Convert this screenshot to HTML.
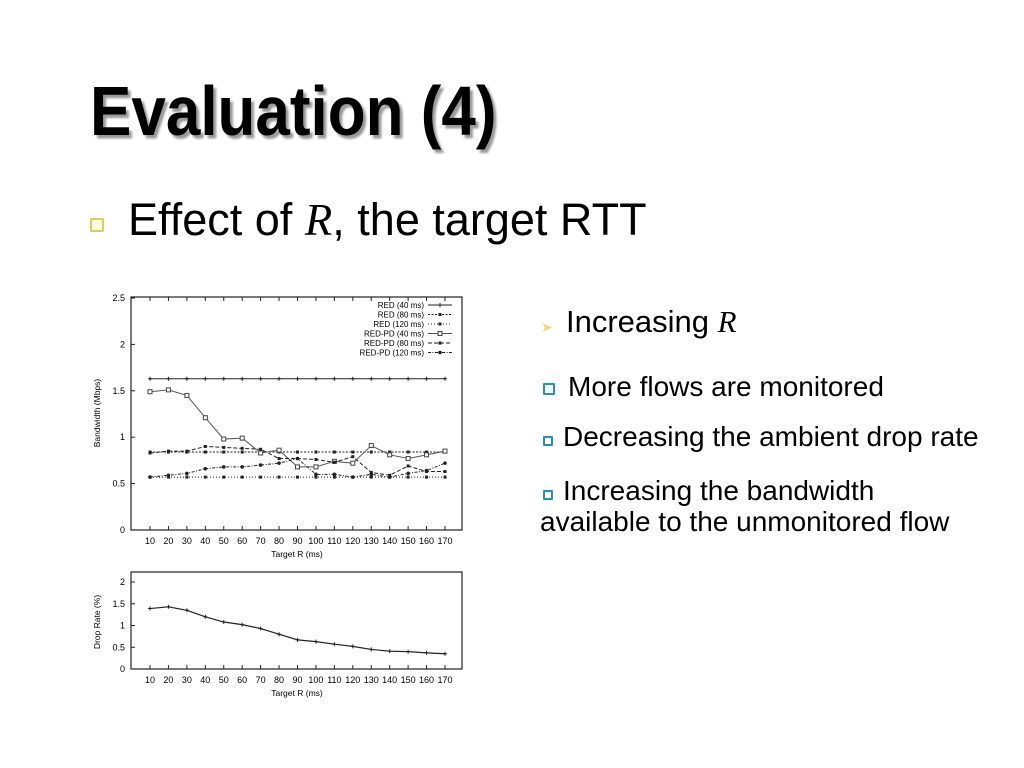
<!DOCTYPE html>
<html><head><meta charset="utf-8">
<style>
body{margin:0;width:1024px;height:768px;background:#fff;position:relative;overflow:hidden;font-family:"Liberation Sans",sans-serif;color:#000}
.t{position:absolute;white-space:nowrap;line-height:1}
.sq{position:absolute;width:8px;height:8px;border:2px solid #2a8fb5;background:#fff;border-radius:1px}
</style></head><body>
<div class="t" style="left:90px;top:78px;font-size:62px;font-weight:bold;transform:scaleY(1.12);transform-origin:left top;text-shadow:3px 3px 2px #999">Evaluation (4)</div>
<div class="sq" style="left:90px;top:218px;border-color:#d8d060;width:10px;height:10px;background:#fffbe0"></div>
<div class="t" style="left:128px;top:197px;font-size:45px">Effect of <i style="font-family:'Liberation Serif',serif">R</i>, the target RTT</div>
<div class="t" style="left:541px;top:320px;font-size:14px;color:#e8e070">➤</div>
<div class="t" style="left:566px;top:306px;font-size:31px">Increasing <i style="font-family:'Liberation Serif',serif">R</i></div>
<div class="sq" style="left:543px;top:383px"></div>
<div class="t" style="left:568px;top:373px;font-size:28px">More flows are monitored</div>
<div class="sq" style="left:543px;top:436px;width:6px;height:6px"></div>
<div class="t" style="left:563px;top:423px;font-size:28px">Decreasing the ambient drop rate</div>
<div class="sq" style="left:543px;top:490px;width:6px;height:6px"></div>
<div class="t" style="left:563px;top:477px;font-size:28px">Increasing the bandwidth</div>
<div class="t" style="left:540px;top:508px;font-size:28px">available to the unmonitored flow</div>

<svg id="chart" width="1024" height="768" style="position:absolute;left:0;top:0" font-family="Liberation Sans, sans-serif"></svg>
<script>
const categories=[10,20,30,40,50,60,70,80,90,100,110,120,130,140,150,160,170];
const red40=[1.63,1.63,1.63,1.63,1.63,1.63,1.63,1.63,1.63,1.63,1.63,1.63,1.63,1.63,1.63,1.63,1.63];
const red80=[0.84,0.84,0.84,0.84,0.84,0.84,0.84,0.84,0.84,0.84,0.84,0.84,0.84,0.84,0.84,0.84,0.84];
const red120=[0.57,0.57,0.57,0.57,0.57,0.57,0.57,0.57,0.57,0.57,0.57,0.57,0.57,0.57,0.57,0.57,0.57];
const redpd40=[1.49,1.51,1.45,1.21,0.98,0.99,0.83,0.86,0.68,0.68,0.74,0.72,0.91,0.81,0.77,0.81,0.85];
const redpd80=[0.83,0.85,0.85,0.90,0.89,0.88,0.87,0.77,0.77,0.76,0.73,0.79,0.62,0.59,0.69,0.63,0.63];
const redpd120=[0.57,0.59,0.61,0.66,0.68,0.68,0.70,0.72,0.77,0.60,0.60,0.57,0.60,0.57,0.61,0.64,0.72];
const dropRate=[1.39,1.43,1.35,1.20,1.08,1.02,0.93,0.80,0.67,0.63,0.57,0.52,0.45,0.41,0.40,0.37,0.35];
const bwTicks=[0,0.5,1,1.5,2,2.5];
const dropTicks=[0,0.5,1,1.5,2];

const svg=document.getElementById('chart');
const NS='http://www.w3.org/2000/svg';
function mk(tag,attrs,parent){const e=document.createElementNS(NS,tag);for(const k in attrs)e.setAttribute(k,attrs[k]);(parent||svg).appendChild(e);return e;}
const xS=v=>150+(v-10)/160*295;
const yTop=v=>530-v/2.5*232;
const yBot=v=>669-v/2*87;

let g=mk('g',{});


let r=mk('rect',{x:131,y:297,width:331,height:233,fill:'none',stroke:'#222','stroke-width':1.2},g);


bwTicks.forEach(v=>{const t=mk('text',{x:125,y:yTop(v)+3,'font-size':9,'text-anchor':'end'},g);t.textContent=v;

mk('line',{x1:131,x2:135,y1:yTop(v),y2:yTop(v),stroke:'#222'},g);});
categories.forEach(c=>{const t=mk('text',{x:xS(c),y:544,'font-size':9,'text-anchor':'middle'},g);t.textContent=c;

mk('line',{x1:xS(c),x2:xS(c),y1:530,y2:526,stroke:'#222'},g);mk('line',{x1:xS(c),x2:xS(c),y1:297,y2:301,stroke:'#222'},g);});
let xt=mk('text',{x:297,y:557,'font-size':8.5,'text-anchor':'middle'},g);xt.textContent='Target R (ms)';

let yt=mk('text',{x:100,y:413,'font-size':8.5,'text-anchor':'middle',transform:'rotate(-90 100 413)'},g);yt.textContent='Bandwidth (Mbps)';


const series=[
 {name:'RED (40 ms)',d:red40,dash:'',m:'plus'},
 {name:'RED (80 ms)',d:red80,dash:'2,1.5',m:'fsq'},
 {name:'RED (120 ms)',d:red120,dash:'1,2',m:'fsq'},
 {name:'RED-PD (40 ms)',d:redpd40,dash:'',m:'osq',col:'#555'},
 {name:'RED-PD (80 ms)',d:redpd80,dash:'4,2',m:'fsq'},
 {name:'RED-PD (120 ms)',d:redpd120,dash:'3,1.5,1,1.5',m:'dot'}];
function marker(x,y,m,p){
 if(m==='plus'){mk('path',{d:`M${x-2} ${y}H${x+2}M${x} ${y-2}V${y+2}`,stroke:'#222'},p);}
 else if(m==='fsq'){mk('rect',{x:x-1.5,y:y-1.5,width:3,height:3,fill:'#222'},p);}
 else if(m==='osq'){mk('rect',{x:x-2,y:y-2,width:4,height:4,fill:'#fff',stroke:'#444'},p);}
 else mk('circle',{cx:x,cy:y,r:1.8,fill:'#222'},p);
}
series.forEach((s,i)=>{
 const sg=mk('g',{},g);
 
 
 const pts=s.d.map((v,j)=>xS(categories[j])+','+yTop(v)).join(' ');
 mk('polyline',{points:pts,fill:'none',stroke:s.col||'#222','stroke-width':1,'stroke-dasharray':s.dash},sg);
 s.d.forEach((v,j)=>marker(xS(categories[j]),yTop(v),s.m,sg));
 const ly=305+i*9.5;
 const lt=mk('text',{x:424,y:ly+3,'font-size':8,'text-anchor':'end'},g);lt.textContent=s.name;
 
 mk('line',{x1:428,x2:452,y1:ly,y2:ly,stroke:s.col||'#222','stroke-dasharray':s.dash},g);
 marker(440,ly,s.m,g);
});

let g2=mk('g',{});


let r2=mk('rect',{x:131,y:572,width:331,height:97,fill:'none',stroke:'#222','stroke-width':1.2},g2);


dropTicks.forEach(v=>{const t=mk('text',{x:125,y:yBot(v)+3,'font-size':9,'text-anchor':'end'},g2);t.textContent=v;

mk('line',{x1:131,x2:135,y1:yBot(v),y2:yBot(v),stroke:'#222'},g2);});
categories.forEach(c=>{const t=mk('text',{x:xS(c),y:683,'font-size':9,'text-anchor':'middle'},g2);t.textContent=c;

mk('line',{x1:xS(c),x2:xS(c),y1:669,y2:665,stroke:'#222'},g2);});
let xt2=mk('text',{x:297,y:696,'font-size':8.5,'text-anchor':'middle'},g2);xt2.textContent='Target R (ms)';

let yt2=mk('text',{x:100,y:622,'font-size':8.5,'text-anchor':'middle',transform:'rotate(-90 100 622)'},g2);yt2.textContent='Drop Rate (%)';

const dl=mk('polyline',{points:dropRate.map((v,j)=>xS(categories[j])+','+yBot(v)).join(' '),fill:'none',stroke:'#222','stroke-width':1.2},g2);


dropRate.forEach((v,j)=>marker(xS(categories[j]),yBot(v),'plus',g2));
</script>
</body></html>
